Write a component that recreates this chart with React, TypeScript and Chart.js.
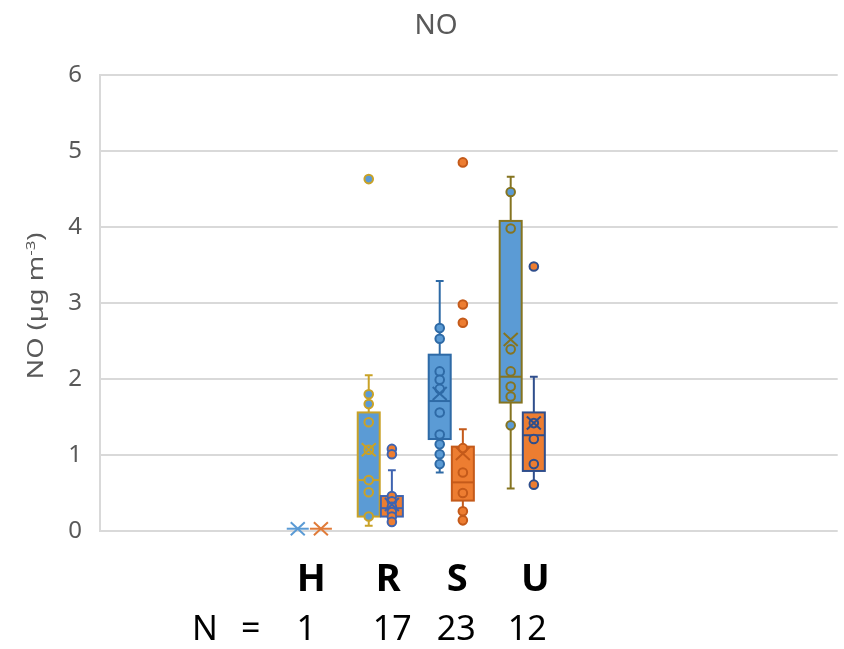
import React, { useEffect, useRef } from 'react';
import { Chart, registerables } from 'chart.js';

Chart.register(...registerables);

// ---------- data ----------
const categories = ['H', 'R', 'S', 'U'];
const counts = [1, 17, 23, 12];
const yTicks = [0, 1, 2, 3, 4, 5, 6];

// series 1 (blue boxes)
const s1Min = [0.03, 0.07, 0.77, 0.56];
const s1Q1 = [0.03, 0.19, 1.21, 1.69];
const s1Median = [0.03, 0.67, 1.71, 2.03];
const s1Q3 = [0.03, 1.56, 2.32, 4.08];
const s1Max = [0.03, 2.05, 3.29, 4.66];
const s1Mean = [0.03, 1.07, 1.81, 2.52];
const s1Points: number[][] = [
  [],
  [4.63, 1.8, 1.67, 1.43, 1.07, 0.67, 0.51, 0.19],
  [2.67, 2.53, 2.1, 1.99, 1.87, 1.56, 1.27, 1.14, 1.01, 0.88],
  [4.46, 3.98, 2.39, 2.1, 1.9, 1.77, 1.39],
];

// series 2 (orange boxes)
const s2Min = [0.03, 0.12, 0.14, 0.61];
const s2Q1 = [0.03, 0.19, 0.4, 0.79];
const s2Median = [0.03, 0.3, 0.64, 1.26];
const s2Q3 = [0.03, 0.46, 1.11, 1.56];
const s2Max = [0.03, 0.8, 1.34, 2.03];
const s2Mean = [0.03, 0.35, 1.02, 1.42];
const s2Points: number[][] = [
  [],
  [1.08, 1.01, 0.46, 0.39, 0.32, 0.25, 0.19, 0.12],
  [4.85, 2.98, 2.74, 1.09, 0.77, 0.5, 0.26, 0.14],
  [3.48, 1.42, 1.21, 0.88, 0.61],
];

// ---------- styles ----------
const FONT = "'Noto Sans', 'Open Sans', sans-serif";
const GRAY = '#595959';
const s1Fill = '#5B9BD5';
const s1Border = ['#5B9BD5', '#C9A227', '#2E6AA6', '#857421'];
const s2Fill = '#ED7D31';
const s2Border = ['#E07B39', '#3E63B0', '#C45A1A', '#2F4E8C'];
const OFF1 = -0.163;
const OFF2 = 0.163;
const BOX_HALF = 0.155;
const CAP_HALF = 0.055;
const labelNudge = [2, 8, 6, 13];
const countNudge = [-3, 12, 5, 5];

const boxPlugin = {
  id: 'boxes',
  beforeDatasetsDraw(chart: any) {
    const { ctx, scales } = chart;
    const x = scales.x;
    const y = scales.y;
    const drawSeries = (
      off: number,
      mins: number[],
      q1s: number[],
      meds: number[],
      q3s: number[],
      maxs: number[],
      fill: string,
      borders: string[]
    ) => {
      categories.forEach((_, i) => {
        const cx = x.getPixelForValue(i + off);
        const hw = x.getPixelForValue(i + off + BOX_HALF) - cx;
        const cap = x.getPixelForValue(i + off + CAP_HALF) - cx;
        const yMin = y.getPixelForValue(mins[i]);
        const yQ1 = y.getPixelForValue(q1s[i]);
        const yMed = y.getPixelForValue(meds[i]);
        const yQ3 = y.getPixelForValue(q3s[i]);
        const yMax = y.getPixelForValue(maxs[i]);
        ctx.save();
        ctx.strokeStyle = borders[i];
        ctx.lineWidth = 2;
        ctx.beginPath();
        if (yMax < yQ3) {
          ctx.moveTo(cx, yQ3);
          ctx.lineTo(cx, yMax);
          ctx.moveTo(cx - cap, yMax);
          ctx.lineTo(cx + cap, yMax);
        }
        if (yMin > yQ1) {
          ctx.moveTo(cx, yQ1);
          ctx.lineTo(cx, yMin);
          ctx.moveTo(cx - cap, yMin);
          ctx.lineTo(cx + cap, yMin);
        }
        ctx.stroke();
        if (yQ1 - yQ3 > 0.5) {
          ctx.fillStyle = fill;
          ctx.fillRect(cx - hw, yQ3, 2 * hw, yQ1 - yQ3);
          ctx.strokeRect(cx - hw, yQ3, 2 * hw, yQ1 - yQ3);
        }
        ctx.beginPath();
        ctx.moveTo(cx - hw, yMed);
        ctx.lineTo(cx + hw, yMed);
        ctx.stroke();
        ctx.restore();
      });
    };
    drawSeries(OFF1, s1Min, s1Q1, s1Median, s1Q3, s1Max, s1Fill, s1Border);
    drawSeries(OFF2, s2Min, s2Q1, s2Median, s2Q3, s2Max, s2Fill, s2Border);
  },
  afterDatasetsDraw(chart: any) {
    const { ctx, scales } = chart;
    const x = scales.x;
    const y = scales.y;
    const drawMeans = (off: number, means: number[], borders: string[]) => {
      categories.forEach((_, i) => {
        const cx = x.getPixelForValue(i + off);
        const cy = y.getPixelForValue(means[i]);
        ctx.save();
        ctx.strokeStyle = borders[i];
        ctx.lineWidth = 2;
        ctx.beginPath();
        ctx.moveTo(cx - 7, cy - 6.5);
        ctx.lineTo(cx + 7, cy + 6.5);
        ctx.moveTo(cx + 7, cy - 6.5);
        ctx.lineTo(cx - 7, cy + 6.5);
        ctx.stroke();
        ctx.restore();
      });
    };
    drawMeans(OFF1, s1Mean, s1Border);
    drawMeans(OFF2, s2Mean, s2Border);
  },
  afterDraw(chart: any) {
    const { ctx, scales } = chart;
    const x = scales.x;
    ctx.save();
    // title
    ctx.fillStyle = GRAY;
    ctx.font = `28px ${FONT}`;
    ctx.textAlign = 'center';
    ctx.textBaseline = 'alphabetic';
    ctx.fillText('NO', 436, 34);

    // y-axis title with superscript
    ctx.save();
    ctx.translate(43, 306);
    ctx.rotate(-Math.PI / 2);
    ctx.scale(1.3, 1);
    const mainFont = `21px ${FONT}`;
    const supFont = `13px ${FONT}`;
    const p1 = 'NO (µg m';
    const p2 = '-3';
    const p3 = ')';
    ctx.font = mainFont;
    const w1 = ctx.measureText(p1).width;
    const w3 = ctx.measureText(p3).width;
    ctx.font = supFont;
    const w2 = ctx.measureText(p2).width;
    const total = w1 + w2 + w3;
    let sx = -total / 2;
    ctx.textAlign = 'left';
    ctx.font = mainFont;
    ctx.fillText(p1, sx, 0);
    sx += w1;
    ctx.font = supFont;
    ctx.fillText(p2, sx, -8);
    sx += w2;
    ctx.font = mainFont;
    ctx.fillText(p3, sx, 0);
    ctx.restore();

    // category labels and counts
    ctx.fillStyle = '#000000';
    ctx.textAlign = 'center';
    ctx.font = `bold 38px ${FONT}`;
    categories.forEach((c, i) => {
      ctx.fillText(c, x.getPixelForValue(i) + labelNudge[i], 591);
    });
    ctx.font = `34px ${FONT}`;
    ctx.textAlign = 'left';
    ctx.fillText('N', 192, 640);
    ctx.fillText('=', 241, 640);
    ctx.textAlign = 'center';
    counts.forEach((n, i) => {
      ctx.fillText(String(n), x.getPixelForValue(i) + countNudge[i], 640);
    });
    ctx.restore();
  },
};

function buildPoints(values: number[][], off: number) {
  const pts: { x: number; y: number }[] = [];
  values.forEach((arr, i) => arr.forEach((v) => pts.push({ x: i + off, y: v })));
  return pts;
}
function buildColors(values: number[][], colors: string[]) {
  const out: string[] = [];
  values.forEach((arr, i) => arr.forEach(() => out.push(colors[i])));
  return out;
}

export default function App() {
  const ref = useRef<HTMLCanvasElement | null>(null);
  useEffect(() => {
    if (!ref.current) return;
    const chart = new Chart(ref.current, {
      type: 'scatter',
      data: {
        datasets: [
          {
            label: 'Series 1',
            data: buildPoints(s1Points, OFF1),
            backgroundColor: buildColors(s1Points, categories.map(() => s1Fill)),
            borderColor: buildColors(s1Points, s1Border),
            pointRadius: 4.3,
            pointBorderWidth: 2,
          },
          {
            label: 'Series 2',
            data: buildPoints(s2Points, OFF2),
            backgroundColor: buildColors(s2Points, categories.map(() => s2Fill)),
            borderColor: buildColors(s2Points, s2Border),
            pointRadius: 4.3,
            pointBorderWidth: 2,
          },
        ],
      },
      options: {
        responsive: false,
        animation: false,
        layout: { padding: { left: 0, right: 4, top: 75, bottom: 118 } },
        plugins: {
          legend: { display: false },
          tooltip: { enabled: false },
          title: { display: false },
        },
        scales: {
          x: {
            type: 'linear',
            min: -2.949,
            max: 7.444,
            display: false,
          },
          y: {
            min: 0,
            max: 6,
            afterBuildTicks: (scale: any) => {
              scale.ticks = yTicks.map((v) => ({ value: v }));
            },
            afterFit: (scale: any) => {
              scale.width = 100;
            },
            ticks: {
              color: GRAY,
              font: { size: 24, family: FONT },
              padding: 18,
            },
            grid: { color: '#d9d9d9', lineWidth: 2, drawTicks: false },
            border: { display: true, color: '#d9d9d9', width: 2 },
          },
        },
      },
      plugins: [boxPlugin],
    } as any);
    return () => chart.destroy();
  }, []);
  return (
    <div style={{ position: 'fixed', left: 0, top: 0, width: 844, height: 649, background: '#fff' }}>
      <canvas ref={ref} width={844} height={649} style={{ display: 'block' }} />
    </div>
  );
}
